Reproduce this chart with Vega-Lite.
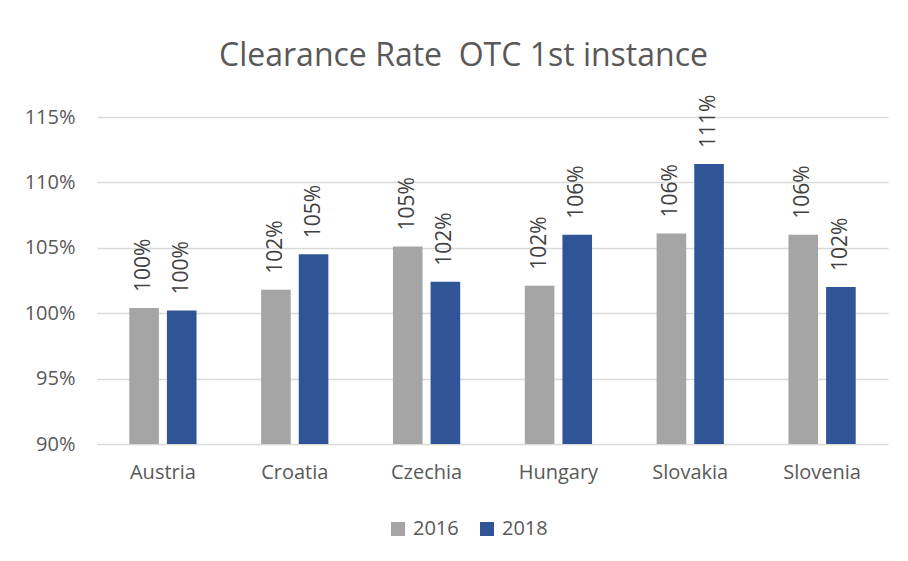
{
  "$schema": "https://vega.github.io/schema/vega-lite/v6.json",
  "autosize": "none",
  "width": 791,
  "height": 327,
  "padding": {"left": 97, "top": 117, "right": 20, "bottom": 117},
  "background": "white",
  "title": {
    "text": "Clearance Rate \u00a0OTC 1st instance",
    "font": "Open Sans",
    "fontSize": 32,
    "fontWeight": "normal",
    "color": "#595959",
    "anchor": "middle",
    "offset": 22,
    "dx": -29
  },
  "config": {
    "view": {"stroke": null},
    "font": "Open Sans"
  },
  "data": {
    "values": [
      {"country": "Austria", "year": "2016", "rate": 1.004},
      {"country": "Austria", "year": "2018", "rate": 1.002},
      {"country": "Croatia", "year": "2016", "rate": 1.018},
      {"country": "Croatia", "year": "2018", "rate": 1.045},
      {"country": "Czechia", "year": "2016", "rate": 1.051},
      {"country": "Czechia", "year": "2018", "rate": 1.024},
      {"country": "Hungary", "year": "2016", "rate": 1.021},
      {"country": "Hungary", "year": "2018", "rate": 1.060},
      {"country": "Slovakia", "year": "2016", "rate": 1.061},
      {"country": "Slovakia", "year": "2018", "rate": 1.114},
      {"country": "Slovenia", "year": "2016", "rate": 1.060},
      {"country": "Slovenia", "year": "2018", "rate": 1.020}
    ]
  },
  "encoding": {
    "x": {
      "field": "country",
      "type": "nominal",
      "sort": null,
      "scale": {"paddingInner": 0.49, "paddingOuter": 0.245},
      "axis": {
        "title": null,
        "labelAngle": 0,
        "labelFontSize": 20,
        "labelColor": "#595959",
        "labelPadding": 18,
        "ticks": false,
        "domain": false
      }
    },
    "xOffset": {
      "field": "year",
      "type": "nominal",
      "scale": {"paddingInner": 0.213, "paddingOuter": 0}
    },
    "y": {
      "field": "rate",
      "type": "quantitative",
      "scale": {"domain": [0.9, 1.15], "zero": false, "nice": false},
      "axis": {
        "title": null,
        "format": ".0%",
        "values": [0.9, 0.95, 1.0, 1.05, 1.1, 1.15],
        "labelFontSize": 20,
        "labelColor": "#595959",
        "labelPadding": 22,
        "ticks": false,
        "domain": false,
        "gridColor": "#D9D9D9",
        "gridWidth": 1.5
      }
    }
  },
  "layer": [
    {
      "mark": {"type": "bar"},
      "encoding": {
        "y2": {"datum": 0.9},
        "color": {
          "field": "year",
          "type": "nominal",
          "scale": {"domain": ["2016", "2018"], "range": ["#A5A5A5", "#2F5597"]},
          "legend": {
            "title": null,
            "orient": "none",
            "legendX": 291,
            "legendY": 402,
            "direction": "horizontal",
            "symbolType": "square",
            "symbolSize": 196,
            "symbolStrokeWidth": 0,
            "labelFontSize": 20,
            "labelColor": "#595959",
            "columnPadding": 18,
            "labelOffset": 5
          }
        }
      }
    },
    {
      "mark": {
        "type": "text",
        "angle": 270,
        "align": "left",
        "baseline": "middle",
        "dx": 16,
        "fontSize": 21,
        "color": "#404040"
      },
      "encoding": {
        "text": {"field": "rate", "type": "quantitative", "format": ".0%"}
      }
    }
  ]
}
